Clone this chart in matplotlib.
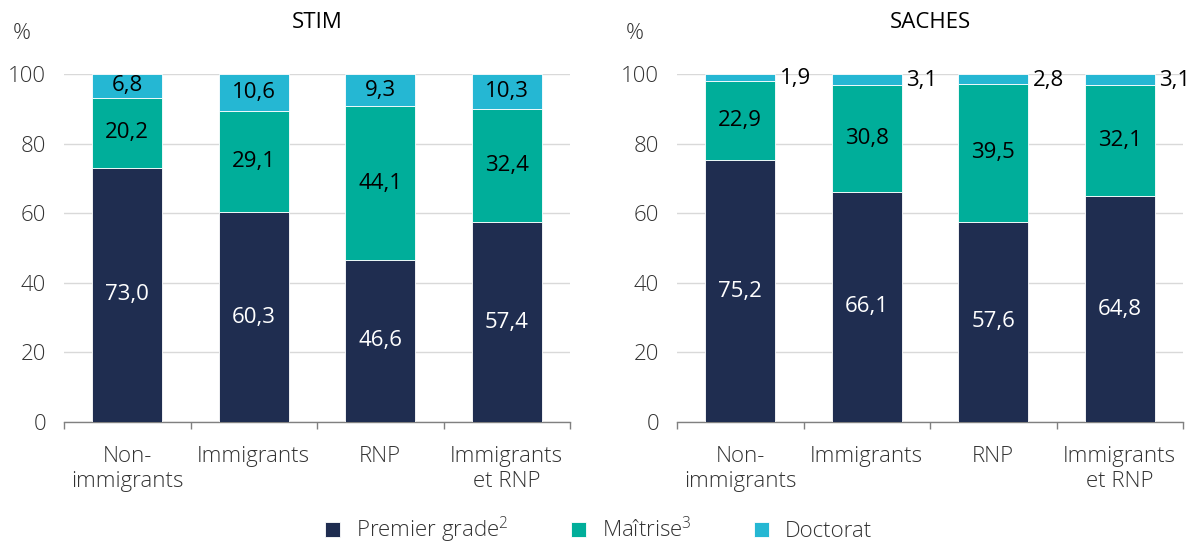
import matplotlib
matplotlib.use("Agg")
import matplotlib.pyplot as plt
import numpy as np

categories = ["Non-\nimmigrants", "Immigrants", "RNP", "Immigrants\net RNP"]
stim_premier = [73.0, 60.3, 46.6, 57.4]
stim_maitrise = [20.2, 29.1, 44.1, 32.4]
stim_doctorat = [6.8, 10.6, 9.3, 10.3]
saches_premier = [75.2, 66.1, 57.6, 64.8]
saches_maitrise = [22.9, 30.8, 39.5, 32.1]
saches_doctorat = [1.9, 3.1, 2.8, 3.1]
titles = ["STIM", "SACHES"]
yticks = [0, 20, 40, 60, 80, 100]
legend_labels = ["Premier grade$^{2}$", "Maîtrise$^{3}$", "Doctorat"]

C_NAVY = "#1f2d50"
C_TEAL = "#00ae9a"
C_CYAN = "#25b7d3"
FS = 16

plt.rcParams['font.family'] = ['Open Sans', 'DejaVu Sans']
plt.rcParams['mathtext.default'] = 'regular'

fig = plt.figure(figsize=(11.97, 5.44), dpi=100)
ax1 = fig.add_axes([64/1197, 1-422/544, 506/1197, 348/544])
ax2 = fig.add_axes([677/1197, 1-422/544, 506/1197, 348/544])

def fmt(v):
    return f"{v:.1f}".replace(".", ",")

panels = [(ax1, stim_premier, stim_maitrise, stim_doctorat, titles[0]),
          (ax2, saches_premier, saches_maitrise, saches_doctorat, titles[1])]
x = np.arange(len(categories))
w = 0.555
for ax, p, m, d, t in panels:
    p = np.array(p); m = np.array(m); d = np.array(d)
    ax.bar(x, p, w, color=C_NAVY, edgecolor="white", linewidth=0.6, zorder=3, label=legend_labels[0])
    ax.bar(x, m, w, bottom=p, color=C_TEAL, edgecolor="white", linewidth=0.6, zorder=3, label=legend_labels[1])
    ax.bar(x, d, w, bottom=p+m, color=C_CYAN, edgecolor="white", linewidth=0.6, zorder=3, label=legend_labels[2])
    for i in range(len(x)):
        ax.text(x[i], p[i]/2, fmt(p[i]), ha="center", va="center", color="white", fontsize=FS, zorder=4)
        ax.text(x[i], p[i]+m[i]/2, fmt(m[i]), ha="center", va="center", color="black", fontsize=FS, zorder=4)
        if d[i] >= 5:
            ax.text(x[i], p[i]+m[i]+d[i]/2, fmt(d[i]), ha="center", va="center", color="black", fontsize=FS, zorder=4)
        else:
            ax.text(x[i]+w/2+0.035, p[i]+m[i]+d[i]/2 - 0.3, fmt(d[i]), ha="left", va="center", color="black", fontsize=FS, zorder=4)
    ax.set_xlim(-0.5, len(x)-0.5)
    ax.set_ylim(0, 100)
    ax.set_yticks(yticks)
    ax.set_yticklabels([str(v) for v in yticks], fontsize=FS, fontweight="light", color="#333333")
    ax.tick_params(axis="y", length=0, pad=13)
    ax.set_xticks(x)
    ax.set_xticklabels(categories, fontsize=FS, fontweight="light", color="#333333", linespacing=1.3)
    ax.set_xticks(np.arange(-0.5, len(x), 1.0), minor=True)
    ax.tick_params(axis="x", which="major", length=0, pad=17)
    ax.tick_params(axis="x", which="minor", length=5, color="#808080", width=1)
    ax.yaxis.grid(True, color="#d9d9d9", linewidth=1, zorder=0)
    ax.set_axisbelow(True)
    for s in ["top", "right", "left"]:
        ax.spines[s].set_visible(False)
    ax.spines["bottom"].set_color("#808080")
    ax.spines["bottom"].set_linewidth(1)
    ax.set_title(t, fontsize=FS, pad=33, color="black")
    ax.text(-0.083, 1.115, "%", transform=ax.transAxes, fontsize=FS, fontweight="light", color="#333333", ha="center", va="center")

handles, labels = ax1.get_legend_handles_labels()
leg = fig.legend(handles, labels, loc="center", bbox_to_anchor=(0.5, 1-530/544), ncol=3, frameon=False,
                 fontsize=FS, handlelength=0.68, handleheight=0.68, columnspacing=2.8, handletextpad=0.72)
for txt in leg.get_texts():
    txt.set_fontweight("light")
    txt.set_color("#333333")

fig.savefig("out.png", dpi=100)
